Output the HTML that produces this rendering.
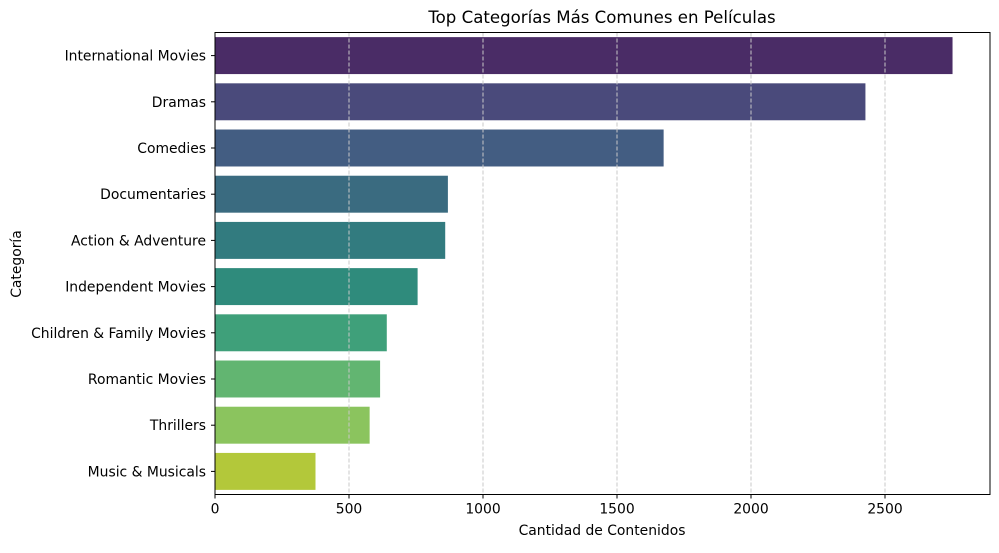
<!DOCTYPE html>
<html><head><meta charset="utf-8"><style>
body{margin:0;background:#fff;}
svg text{font-family:"DejaVu Sans","Liberation Sans",sans-serif;fill:#000;}
</style></head><body>
<svg id="chart" width="999" height="548" xmlns="http://www.w3.org/2000/svg">
<text x="602" y="23" font-size="16.6" text-anchor="middle">Top Categorías Más Comunes en Películas</text>
<text x="602" y="535" font-size="13.9" text-anchor="middle">Cantidad de Contenidos</text>
<text transform="translate(21,264) rotate(-90)" font-size="13.9" text-anchor="middle">Categoría</text>
<g id="bars"></g><g id="grid"></g><g id="axes"></g>
</svg>
<script>
const categories=["International Movies","Dramas","Comedies","Documentaries","Action & Adventure","Independent Movies","Children & Family Movies","Romantic Movies","Thrillers","Music & Musicals"];
const values=[2752,2427,1674,869,859,756,641,616,577,375];
const xTicks=[0,500,1000,1500,2000,2500];
const colors=["#4a2c66","#4a4a7b","#435d82","#3a6b80","#327b7f","#2f8b7c","#3fa07a","#62b571","#8bc45e","#b3c83a"];
const L=215,R=990,T=32.5,B=494.5;
const x=v=>L+v*0.268;
const band=(B-T)/categories.length;
const y=i=>T+band*i;
const NS="http://www.w3.org/2000/svg";
function mk(tag,attrs,parent){const e=document.createElementNS(NS,tag);for(const k in attrs)e.setAttribute(k,attrs[k]);parent.appendChild(e);return e;}
const gb=document.getElementById('bars'),gg=document.getElementById('grid'),ga=document.getElementById('axes');
categories.forEach((c,i)=>{
 const r=mk('rect',{x:L,y:y(i)+band*0.1,width:x(values[i])-L,height:band*0.8,fill:colors[i]},gb);
 
 
 const cy=y(i)+band/2;
 mk('line',{x1:L-4,x2:L,y1:cy,y2:cy,stroke:'#000','stroke-width':1},ga);
 const t=mk('text',{x:L-9,y:cy+5,'font-size':13.9,'text-anchor':'end'},ga);
 t.textContent=c;
 
 
});
xTicks.forEach(v=>{
 const px=x(v);
 if(v>0)mk('line',{x1:px,x2:px,y1:T,y2:B,stroke:'#c8c8c8','stroke-width':1,'stroke-dasharray':'4,2'},gg);
 mk('line',{x1:px,x2:px,y1:B,y2:B+4,stroke:'#000','stroke-width':1},ga);
 const t=mk('text',{x:px,y:B+19,'font-size':13.9,'text-anchor':'middle'},ga);
 t.textContent=v;
 
 
});
const fr=mk('rect',{x:L,y:T,width:R-L,height:B-T,fill:'none',stroke:'#000','stroke-width':1},ga);


</script>
</body></html>
